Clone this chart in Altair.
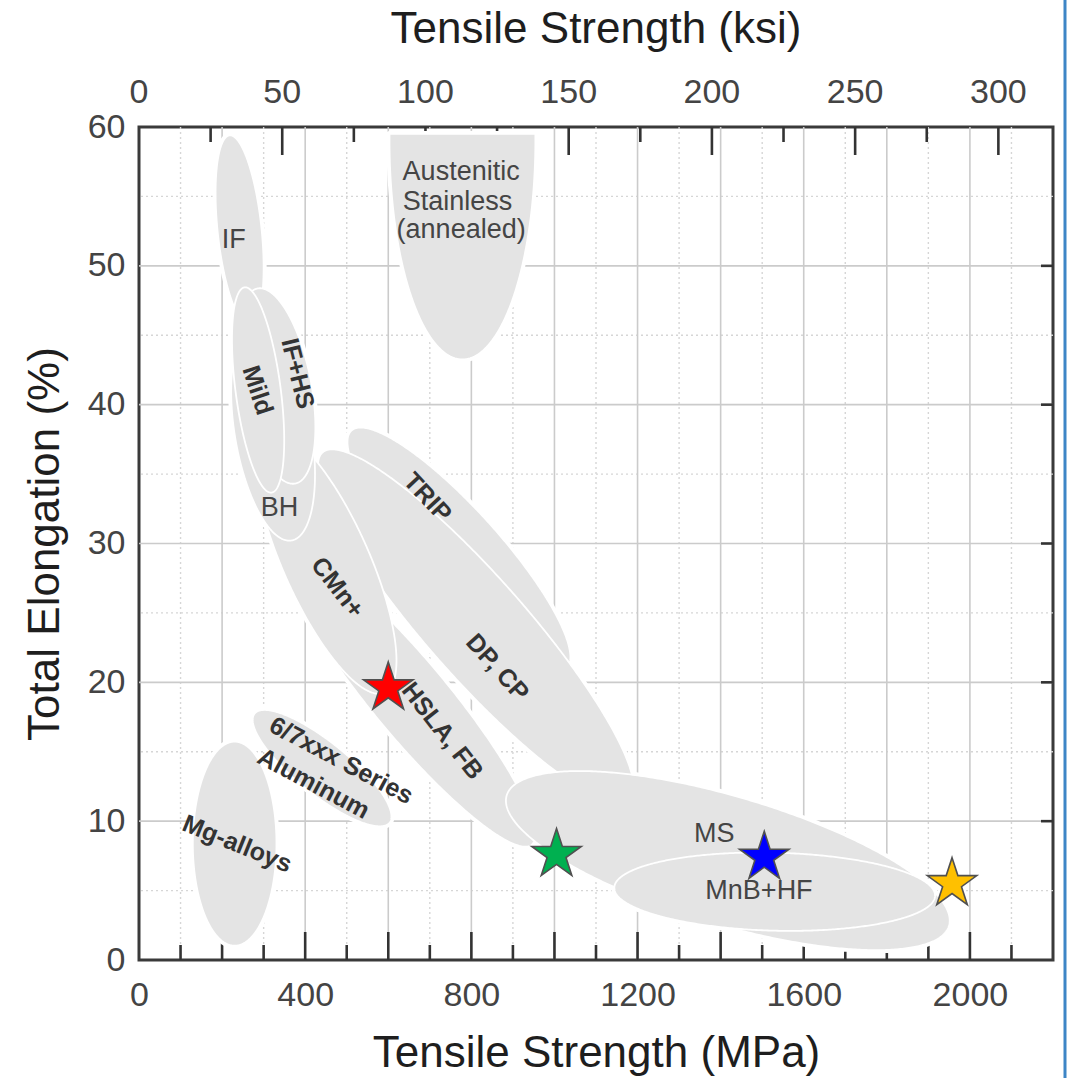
import math
import numpy as np
import pandas as pd
import altair as alt

# ---------------- data ----------------
x_label_mpa = [0, 400, 800, 1200, 1600, 2000]
x_label_ksi = [0, 50, 100, 150, 200, 250, 300]
y_label = [0, 10, 20, 30, 40, 50, 60]

grid_x_solid = [200, 400, 600, 800, 1000, 1200, 1400, 1600, 1800, 2000]
grid_x_dot = [100, 300, 500, 700, 900, 1100, 1300, 1500, 1700, 1900, 2100]
grid_y_solid = [10, 20, 30, 40, 50]
grid_y_dot = [5, 15, 25, 35, 45, 55]

tick_mpa = [100, 200, 300, 400, 500, 600, 700, 800, 900, 1000, 1100,
            1200, 1300, 1400, 1500, 1600, 1700, 1800, 1900, 2000, 2100]
tick_ksi = [25, 50, 75, 100, 125, 150, 175, 200, 225, 250, 275, 300]
tick_right = [10, 20, 30, 40, 50]

# regions: end points of the long axis (MPa, %), minor/major ratio, upper cap (%)
shape_name = ["Austenitic", "IF", "Mg-alloys", "Aluminum", "TRIP", "DP", "HSLA",
              "CMn", "BH", "IF+HS", "Mild", "MS", "MnB+HF"]
shape_x1 = [778.5, 218.1, 230.2, 278.3, 511.5, 441.8, 362.4, 309.5, 278.3, 285.5, 254.2, 885.0, 1144.1]
shape_y1 = [74.82, 59.40, 15.73, 17.75, 38.14, 36.56, 29.28, 38.14, 45.71, 48.37, 48.45, 11.85, 5.21]
shape_x2 = [778.5, 266.2, 230.2, 602.9, 1028.6, 1180.1, 945.0, 590.9, 367.2, 376.0, 319.1, 1949.7, 1916.1]
shape_y2 = [43.26, 45.71, 1.03, 9.89, 20.99, 11.48, 8.30, 19.26, 30.22, 34.32, 33.67, 2.47, 4.63]
shape_ratio = [0.333, 0.23, 0.41, 0.30, 0.25, 0.215, 0.20, 0.30, 0.35, 0.35, 0.218, 0.278, 0.243]
shape_cap = [59.5, 60, 60, 60, 60, 60, 60, 60, 60, 60, 60, 60, 60]

label_text = ["IF", "BH", "MS", "MnB+HF", "Austenitic", "Stainless", "(annealed)"]
label_x = [227.8, 338.1, 1384.6, 1492.3, 775.4, 766.5, 775.4]
label_y = [51.83, 32.59, 9.1, 5.0, 56.76, 54.59, 52.55]

bold_text = ["Mild", "IF+HS", "TRIP", "CMn+", "DP, CP", "HSLA, FB", "6/7xxx Series", "Aluminum", "Mg-alloys"]
bold_x = [285.5, 381.7, 694.3, 477.9, 862.7, 730.4, 486.8, 420.2, 236.2]
bold_y = [41.03, 42.25, 33.32, 26.83, 21.07, 16.5, 14.36, 12.7, 8.36]
bold_angle = [72, 76, 47, 52, 48, 52, 28, 28, 22]

star_mpa = [600, 1005, 1505, 1957]
star_el = [19.6, 7.6, 7.4, 5.5]
star_color = ["#ff0000", "#00b050", "#0000ff", "#ffc000"]

top_title = "Tensile Strength (ksi)"

# ---------------- layout / style ----------------
PW, PH = 914, 833
X_MAX, Y_MAX = 2200, 60
MPA_PER_KSI = 6.895
FONT = "Liberation Sans, Arial, sans-serif"
GRAY = "#e4e4e4"
SX, SY = PW / X_MAX, PH / Y_MAX

xs = alt.Scale(domain=[0, X_MAX], nice=False, zero=False)
ys = alt.Scale(domain=[0, Y_MAX], nice=False, zero=False)


def shape_table(i, n=260):
    u1, v1 = shape_x1[i] * SX, shape_y1[i] * SY
    u2, v2 = shape_x2[i] * SX, shape_y2[i] * SY
    cu, cv = (u1 + u2) / 2, (v1 + v2) / 2
    a = math.hypot(u2 - u1, v2 - v1) / 2
    b = a * shape_ratio[i]
    du, dv = (u2 - u1) / (2 * a), (v2 - v1) / (2 * a)
    nu, nv = -dv, du
    half = math.sqrt((a * du) ** 2 + (b * nu) ** 2)
    th = np.linspace(math.pi, 0, n)
    us = cu + half * np.cos(th)
    dx = us - cu
    A = dv ** 2 / a ** 2 + nv ** 2 / b ** 2
    B = 2 * dx * (du * dv / a ** 2 + nu * nv / b ** 2)
    C = dx ** 2 * (du ** 2 / a ** 2 + nu ** 2 / b ** 2) - 1
    disc = np.clip(B ** 2 - 4 * A * C, 0, None)
    wlo = (-B - np.sqrt(disc)) / (2 * A)
    whi = (-B + np.sqrt(disc)) / (2 * A)
    ylo = (cv + wlo) / SY
    yhi = np.minimum((cv + whi) / SY, shape_cap[i])
    df = pd.DataFrame({"shape": shape_name[i], "x": us / SX, "ylo": ylo, "yhi": yhi})
    return df[df["ylo"] < df["yhi"]]


tables = [shape_table(i) for i in range(len(shape_name))]
all_shapes = pd.concat(tables, ignore_index=True)

# ---------------- axes ----------------
common = dict(ticks=False, domain=False, grid=False, labelFont=FONT, labelFontSize=34,
              labelColor="#444444", labelFlush=False, titleFont=FONT, titleFontSize=44,
              titleFontWeight="normal", titleColor="#1e1e1e")
x_axis = alt.Axis(orient="bottom", values=x_label_mpa, format="d", labelPadding=18,
                  title="Tensile Strength (MPa)", titleY=93, titleBaseline="middle", **common)
y_axis = alt.Axis(orient="left", values=y_label, format="d", labelPadding=14,
                  title="Total Elongation (%)", titlePadding=20, **common)

X = lambda f="x:Q": alt.X(f, scale=xs, axis=None)
Y = lambda f="y:Q": alt.Y(f, scale=ys, axis=None)

# ---------------- layers ----------------
axes_layer = alt.Chart(pd.DataFrame({"x": [0.0], "y": [0.0]})).mark_point(opacity=0).encode(
    x=alt.X("x:Q", scale=xs, axis=x_axis), y=alt.Y("y:Q", scale=ys, axis=y_axis))

gx_solid = alt.Chart(pd.DataFrame({"x": grid_x_solid})).mark_rule(
    color="#cbcbcb", strokeWidth=1.6).encode(x=X())
gx_dot = alt.Chart(pd.DataFrame({"x": grid_x_dot})).mark_rule(
    color="#d6d6d6", strokeWidth=1.4, strokeDash=[2, 3]).encode(x=X())
gy_solid = alt.Chart(pd.DataFrame({"y": grid_y_solid})).mark_rule(
    color="#cbcbcb", strokeWidth=1.6).encode(y=Y())
gy_dot = alt.Chart(pd.DataFrame({"y": grid_y_dot})).mark_rule(
    color="#d6d6d6", strokeWidth=1.4, strokeDash=[2, 3]).encode(y=Y())

short_len, tall_len = 15 / SY, 28 / SY
bt = pd.DataFrame({"x": tick_mpa,
                   "y0": 0.0,
                   "y1": [tall_len if v % 200 == 0 else short_len for v in tick_mpa]})
bottom_ticks = alt.Chart(bt).mark_rule(color="#333333", strokeWidth=2.6).encode(
    x=X(), y=Y("y0:Q"), y2="y1:Q")

kt = pd.DataFrame({"x": [k * MPA_PER_KSI for k in tick_ksi], "y0": float(Y_MAX),
                   "y1": [Y_MAX - (tall_len if v % 50 == 0 else short_len) for v in tick_ksi]})
top_ticks = alt.Chart(kt).mark_rule(color="#333333", strokeWidth=2.6).encode(
    x=X(), y=Y("y0:Q"), y2="y1:Q")

kl = pd.DataFrame({"x": [k * MPA_PER_KSI for k in x_label_ksi], "y": float(Y_MAX),
                   "t": [str(k) for k in x_label_ksi]})
top_labels = alt.Chart(kl).mark_text(font=FONT, fontSize=34, color="#444444", align="center",
                                     baseline="alphabetic", dy=-24).encode(
    x=X(), y=Y(), text="t:N")
tt = pd.DataFrame({"x": [X_MAX / 2], "y": [float(Y_MAX)], "t": [top_title]})
top_title_layer = alt.Chart(tt).mark_text(font=FONT, fontSize=44, color="#1e1e1e",
                                          align="center", baseline="middle", dy=-97).encode(
    x=X(), y=Y(), text="t:N")

rt = pd.DataFrame({"y": tick_right, "x0": float(X_MAX), "x1": X_MAX - 12 / SX})
right_ticks = alt.Chart(rt).mark_rule(color="#333333", strokeWidth=2.6).encode(
    y=Y(), x=X("x0:Q"), x2="x1:Q")

halo = alt.Chart(all_shapes).mark_area(fill="white", stroke="white", strokeWidth=6,
                                       strokeJoin="round").encode(
    x=X(), y=Y("ylo:Q"), y2="yhi:Q", detail="shape:N")

shape_layers = [
    alt.Chart(t).mark_area(fill=GRAY, stroke="white", strokeWidth=1.8, strokeJoin="round",
                           opacity=1).encode(x=X(), y=Y("ylo:Q"), y2="yhi:Q")
    for t in tables
]

plain_labels = alt.Chart(pd.DataFrame({"t": label_text, "x": label_x, "y": label_y})).mark_text(
    font=FONT, fontSize=27, color="#454545", align="center", baseline="middle").encode(
    x=X(), y=Y(), text="t:N")
bold_labels = alt.Chart(pd.DataFrame({"t": bold_text, "x": bold_x, "y": bold_y,
                                      "a": bold_angle})).mark_text(
    font=FONT, fontSize=25, fontWeight="bold", color="#333333", align="center",
    baseline="middle").encode(
    x=X(), y=Y(), text="t:N", angle=alt.Angle("a:Q", scale=None))

pts = []
for k in range(10):
    r = 1.0 if k % 2 == 0 else 0.382
    ang = math.radians(-90 + 36 * k)
    pts.append(f"{r * math.cos(ang):.4f},{r * math.sin(ang):.4f}")
STAR = "M" + " L".join(pts) + " Z"

stars = alt.Chart(pd.DataFrame({"x": star_mpa, "y": star_el, "c": star_color})).mark_point(
    shape=STAR, filled=True, size=2704, stroke="#505050", strokeWidth=1.6, opacity=1).encode(
    x=X(), y=Y(), fill=alt.Fill("c:N", scale=None))

edge_line = alt.Chart(pd.DataFrame({"d": [0]})).mark_rule(color="#3d85c6", strokeWidth=3).encode(
    x=alt.value(PW + 12), y=alt.value(-127), y2=alt.value(PH + 118))

chart = alt.layer(axes_layer, gx_dot, gy_dot, gx_solid, gy_solid, bottom_ticks, top_ticks,
                  right_ticks, halo, *shape_layers, plain_labels, bold_labels, stars,
                  top_labels, top_title_layer, edge_line).resolve_axis(
    x="independent", y="independent").properties(
    width=PW, height=PH,
    padding={"left": 139, "top": 127, "right": 18, "bottom": 118},
    autosize=alt.AutoSizeParams(type="none"),
    background="white",
).configure_view(stroke="#3a3a3a", strokeWidth=3)

chart.save("out.html", embed_options={"renderer": "svg", "actions": False})
